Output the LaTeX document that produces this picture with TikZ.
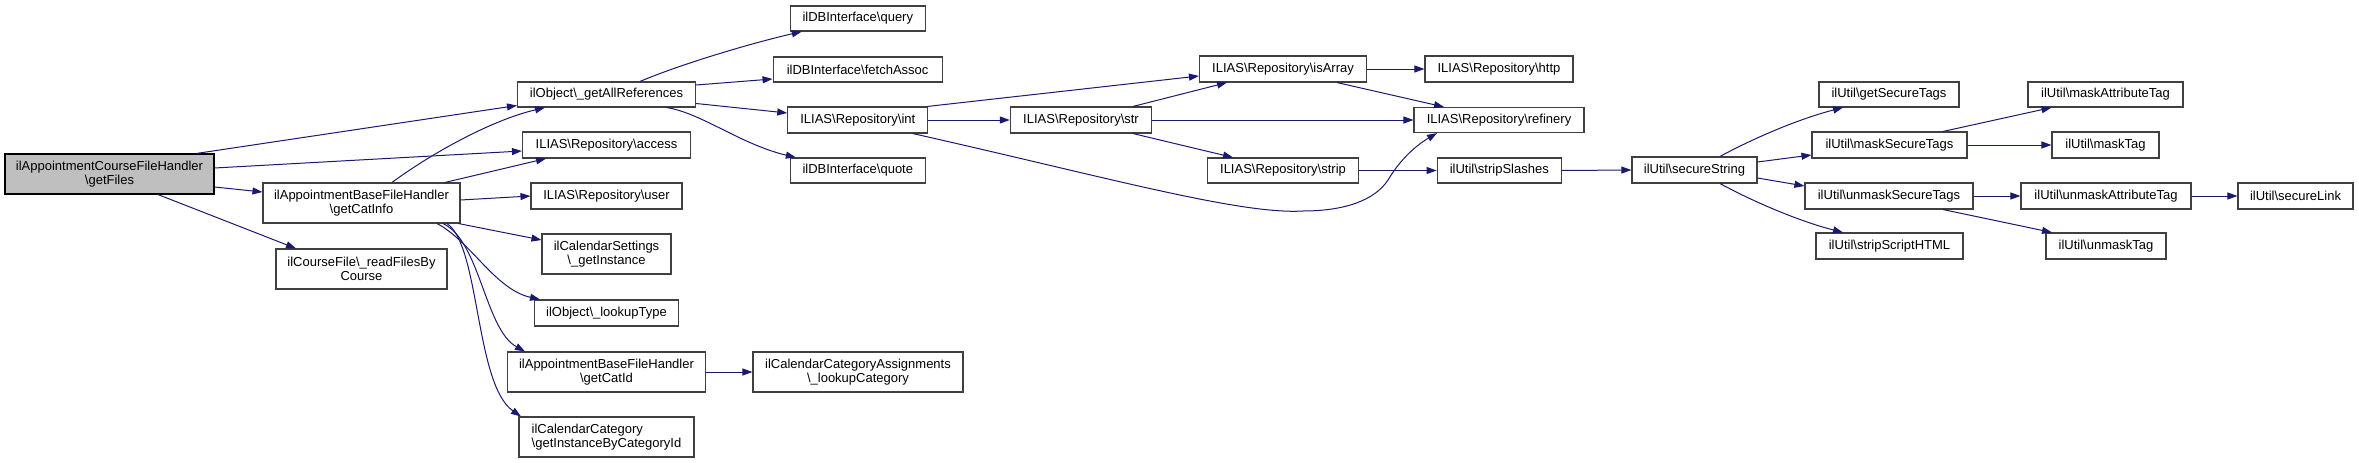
\documentclass[tikz,border=0pt]{standalone}
\usepackage{fontspec}
\setmainfont{Liberation Sans}
\usetikzlibrary{arrows.meta}
\definecolor{edgecol}{HTML}{191970}
\definecolor{boxcol}{HTML}{404040}
\definecolor{rootfill}{HTML}{BFBFBF}
\newcommand{\BSx}{\textbackslash}
\tikzset{
  box/.style={draw=boxcol, line width=1.1pt, fill=white, inner sep=0pt, align=center,
    font=\fontsize{13}{14}\selectfont, minimum height=26pt},
  tall/.style={minimum height=40pt},
  call/.style={draw=edgecol, line width=1pt, -{Triangle[length=10pt,width=7pt]}}
}
\begin{document}
\begin{tikzpicture}[x=1pt,y=-1pt]
\useasboundingbox (0,0) rectangle (2359,463);
% column 1
\node[box,tall,fill=rootfill,draw=black,minimum width=209pt] (root) at (109.5,174) {ilAppointmentCourseFileHandler\\\BSx getFiles};
% column 2
\node[box,tall,minimum width=197pt] (gci) at (361.5,203) {ilAppointmentBaseFileHandler\\\BSx getCatInfo};
\node[box,tall,minimum width=171pt] (rf) at (361.5,269) {ilCourseFile\BSx\_readFilesBy\\Course};
% column 3
\node[box,minimum width=178pt,minimum height=25pt] (gar) at (606.5,94.5) {ilObject\BSx\_getAllReferences};
\node[box,minimum width=168pt] (access) at (606.5,145) {ILIAS\BSx Repository\BSx access};
\node[box,minimum width=151pt] (user) at (606.5,196) {ILIAS\BSx Repository\BSx user};
\node[box,tall,minimum width=129pt] (cs) at (606.5,254) {ilCalendarSettings\\\BSx\_getInstance};
\node[box,minimum width=144pt] (lt) at (606.5,313) {ilObject\BSx\_lookupType};
\node[box,tall,minimum width=197.5pt] (gcid) at (606.5,372) {ilAppointmentBaseFileHandler\\\BSx getCatId};
\node[box,tall,minimum width=175pt,align=left] (gibc) at (606.5,437) {ilCalendarCategory\\\BSx getInstanceByCategoryId};
% column 4
\node[box,minimum width=135pt,minimum height=25pt] (query) at (857.8,18.5) {ilDBInterface\BSx query};
\node[box,minimum width=169pt,minimum height=25pt] (fa) at (857.6,69.5) {ilDBInterface\BSx fetchAssoc};
\node[box,minimum width=140pt] (int) at (857.8,120) {ILIAS\BSx Repository\BSx int};
\node[box,minimum width=135pt,minimum height=25pt] (quote) at (857.8,170.5) {ilDBInterface\BSx quote};
\node[box,tall,minimum width=210pt] (lc) at (858,372) {ilCalendarCategoryAssignments\\\BSx\_lookupCategory};
% column 5
\node[box,minimum width=141.4pt] (str) at (1081,120) {ILIAS\BSx Repository\BSx str};
% column 6
\node[box,minimum width=167pt] (isa) at (1283,69) {ILIAS\BSx Repository\BSx isArray};
\node[box,minimum width=151pt,minimum height=25pt] (strip) at (1283,170.5) {ILIAS\BSx Repository\BSx strip};
% column 7
\node[box,minimum width=148pt] (http) at (1499,69) {ILIAS\BSx Repository\BSx http};
\node[box,minimum width=170pt,minimum height=25pt] (ref) at (1499,120) {ILIAS\BSx Repository\BSx refinery};
\node[box,minimum width=124.4pt,minimum height=25pt] (ss) at (1499.3,170.5) {ilUtil\BSx stripSlashes};
% column 8
\node[box,minimum width=125pt] (sec) at (1694.5,170) {ilUtil\BSx secureString};
% column 9
\node[box,minimum width=140pt,minimum height=25pt] (gst) at (1889,94.5) {ilUtil\BSx getSecureTags};
\node[box,minimum width=155pt] (mst) at (1889.5,145) {ilUtil\BSx maskSecureTags};
\node[box,minimum width=168pt] (umst) at (1889,196) {ilUtil\BSx unmaskSecureTags};
\node[box,minimum width=147pt] (ssh) at (1889.5,246) {ilUtil\BSx stripScriptHTML};
% column 10
\node[box,minimum width=155pt,minimum height=25pt] (mat) at (2105.5,94.5) {ilUtil\BSx maskAttributeTag};
\node[box,minimum width=107pt] (mt) at (2105.5,145) {ilUtil\BSx maskTag};
\node[box,minimum width=170pt] (uat) at (2106,196) {ilUtil\BSx unmaskAttributeTag};
\node[box,minimum width=120pt] (ut) at (2106,246) {ilUtil\BSx unmaskTag};
% column 11
\node[box,minimum width=115pt] (sl) at (2295.5,196) {ilUtil\BSx secureLink};

% edges from root
\draw[call] ([xshift=87pt]root.north) -- ([yshift=-11pt]gar.west);
\draw[call] ([yshift=6pt]root.east) -- ([yshift=-6pt]access.west);
\draw[call] ([yshift=-13pt]root.east) -- ([yshift=11pt]gci.west);
\draw[call] ([xshift=48.5pt]root.south) -- ([xshift=-65.5pt]rf.north);
% edges from getCatInfo
\draw[call] ([xshift=30.5pt]gci.north) .. controls +(38,-28) and +(-55,13) .. ([xshift=-61.5pt]gar.south);
\draw[call] ([xshift=83.5pt]gci.north) -- ([xshift=-60.5pt]access.south);
\draw[call] ([yshift=3pt]gci.east) -- (user.west);
\draw[call] ([xshift=-2pt]gci.south east) -- ([yshift=14pt]cs.west);
\draw[call] ([xshift=75.5pt]gci.south) .. controls +(33,17) and +(-45,-10) .. ([xshift=-66.5pt]lt.north);
\draw[call] ([xshift=81.5pt]gci.south) .. controls +(37,17) and +(-40,-22) .. ([xshift=-81.5pt]gcid.north);
\draw[call] ([xshift=85.5pt]gci.south) .. controls +(33,22) and +(-46,-32) .. ([xshift=2.5pt]gibc.north west);
% edges from getAllReferences
\draw[call] ([xshift=33.5pt]gar.north) .. controls +(40,-17) and +(-52,12) .. ([xshift=-56pt]query.south);
\draw[call] ([yshift=9.5pt]gar.east) -- ([yshift=-9.5pt]fa.west);
\draw[call] ([yshift=-9pt]gar.east) -- ([yshift=7pt]int.west);
\draw[call] ([xshift=60pt]gar.south) .. controls +(34,5) and +(-55,-13) .. ([xshift=-62pt]quote.north);
% getCatId
\draw[call] (gcid.east) -- (lc.west);
% edges from int
\draw[call] ([xshift=-1pt]int.north east) -- ([yshift=-7pt]isa.west);
\draw[call] (int.east) -- (str.west);
\coordinate (lowpt) at (1303,211);
\coordinate (riseq) at (1388,180);
\draw[call] ([xshift=55pt]int.south) .. controls +(187,42) and +(-63,4) .. (lowpt)
  .. controls +(42,0) and +(-13,20) .. (riseq)
  .. controls +(12,-20) and +(-22,13) .. ([xshift=-62pt]ref.south);
% edges from str
\draw[call] ([xshift=52pt]str.north) -- ([xshift=-56pt]isa.south);
\draw[call] (str.east) -- (ref.west);
\draw[call] ([xshift=52pt]str.south) -- ([xshift=-50pt]strip.north);
% isArray
\draw[call] (isa.east) -- (http.west);
\draw[call] ([xshift=54pt]isa.south) -- ([xshift=-55pt]ref.north);
% strip, stripSlashes
\draw[call] (strip.east) -- (ss.west);
\draw[call] (ss.east) -- (sec.west);
% secureString
\draw[call] ([xshift=25.5pt]sec.north) .. controls +(35,-19) and +(-43,11) .. ([xshift=-46pt]gst.south);
\draw[call] ([yshift=8pt]sec.east) -- ([yshift=-10pt]mst.west);
\draw[call] ([yshift=-8pt]sec.east) -- ([yshift=10pt]umst.west);
\draw[call] ([xshift=25.5pt]sec.south) .. controls +(35,19) and +(-43,-11) .. ([xshift=-46.5pt]ssh.north);
% maskSecureTags / unmaskSecureTags
\draw[call] ([xshift=53.5pt]mst.north) -- ([xshift=-54pt]mat.south);
\draw[call] (mst.east) -- (mt.west);
\draw[call] (umst.east) -- (uat.west);
\draw[call] ([xshift=54pt]umst.south) -- ([xshift=-54pt]ut.north);
\draw[call] (uat.east) -- (sl.west);
\end{tikzpicture}
\end{document}
